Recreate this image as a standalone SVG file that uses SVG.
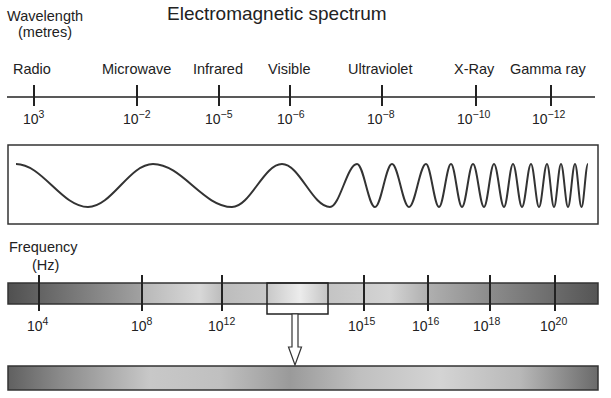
<svg xmlns="http://www.w3.org/2000/svg" width="611" height="398" viewBox="0 0 611 398">
<defs>
<style>
text{font-family:"Liberation Sans",Arial,sans-serif;fill:#222}
.lbl{font-size:14.5px}
.num{font-size:14px}
.sup{font-size:10.5px}
.ax{stroke:#222;stroke-width:1.5;fill:none}
.tk{stroke:#222;stroke-width:2;fill:none}
.bar{stroke:#333;stroke-width:1.5}
</style>
<linearGradient id="g1" gradientUnits="userSpaceOnUse" x1="8" y1="0" x2="598" y2="0">
<stop offset="0" stop-color="#505050"/>
<stop offset="0.223" stop-color="#a0a0a0"/>
<stop offset="0.229" stop-color="#b8b8b8"/>
<stop offset="0.325" stop-color="#d8d8d8"/>
<stop offset="0.363" stop-color="#bcbcbc"/>
<stop offset="0.439" stop-color="#c8c8c8"/>
<stop offset="0.495" stop-color="#ececec"/>
<stop offset="0.542" stop-color="#c4c4c4"/>
<stop offset="0.647" stop-color="#d4d4d4"/>
<stop offset="0.710" stop-color="#b0b0b0"/>
<stop offset="0.817" stop-color="#8c8c8c"/>
<stop offset="1" stop-color="#555555"/>
</linearGradient>
<linearGradient id="g2" gradientUnits="userSpaceOnUse" x1="8" y1="0" x2="598" y2="0">
<stop offset="0" stop-color="#606060"/>
<stop offset="0.088" stop-color="#8a8a8a"/>
<stop offset="0.241" stop-color="#c8c8c8"/>
<stop offset="0.359" stop-color="#c0c0c0"/>
<stop offset="0.478" stop-color="#9a9a9a"/>
<stop offset="0.597" stop-color="#c0c0c0"/>
<stop offset="0.732" stop-color="#d4d4d4"/>
<stop offset="0.868" stop-color="#b8b8b8"/>
<stop offset="1" stop-color="#6a6a6a"/>
</linearGradient>
</defs>
<rect width="611" height="398" fill="#fff"/>

<g id="title">
<text x="167" y="20" style="font-size:19px">Electromagnetic spectrum</text>
</g>

<g id="wavelength-axis">
<text x="7" y="21" class="lbl">Wavelength</text>
<text x="18" y="37" class="lbl">(metres)</text>
<text x="13" y="74" class="lbl">Radio</text>
<text x="102" y="74" class="lbl">Microwave</text>
<text x="193" y="74" class="lbl">Infrared</text>
<text x="268" y="74" class="lbl">Visible</text>
<text x="348" y="74" class="lbl">Ultraviolet</text>
<text x="454" y="74" class="lbl">X-Ray</text>
<text x="510" y="74" class="lbl">Gamma ray</text>
<line x1="7" y1="97" x2="595" y2="97" class="ax"/>
<path class="tk" d="M34 85V106M137 85V106M219 85V106M290 85V106M382 85V106M476 85V106M551 85V106"/>
<text x="23" y="124" class="num">10<tspan dy="-6" class="sup">3</tspan></text>
<text x="123" y="124" class="num">10<tspan dy="-6" class="sup">−2</tspan></text>
<text x="205" y="124" class="num">10<tspan dy="-6" class="sup">−5</tspan></text>
<text x="277" y="124" class="num">10<tspan dy="-6" class="sup">−6</tspan></text>
<text x="367" y="124" class="num">10<tspan dy="-6" class="sup">−8</tspan></text>
<text x="457" y="124" class="num">10<tspan dy="-6" class="sup">−10</tspan></text>
<text x="532" y="124" class="num">10<tspan dy="-6" class="sup">−12</tspan></text>
</g>

<g id="wave-panel">
<rect x="8" y="145" width="590" height="79" fill="#fff" stroke="#333" stroke-width="1.5"/>
<path fill="none" stroke="#333" stroke-width="2" d="M16 164C42.2 164 61.8 207 88 207C111.7 207 129.3 164 153 164C181.8 164 203.2 207 232 207C250.2 207 263.8 164 282 164C299.5 164 312.5 207 330 207C339.8 207 347.2 164 357 164C363.6 164 368.4 207 375 207C381.2 207 385.8 164 392 164C398.2 164 402.8 207 409 207C415.2 207 419.8 164 426 164C430.7 164 434.3 207 439 207C443.4 207 446.6 164 451 164C455 164 458 207 462 207C466 207 469 164 473 164C477 164 480 207 484 207C487.6 207 490.4 164 494 164C497.6 164 500.4 207 504 207C507.3 207 509.7 164 513 164C516.3 164 518.7 207 522 207C525.3 207 527.7 164 531 164C533.9 164 536.1 207 539 207C541.9 207 544.1 164 547 164C549.5 164 551.5 207 554 207C556.5 207 558.5 164 561 164C563.5 164 565.5 207 568 207C570.5 207 572.5 164 575 164C577.4 164 579.1 207 581.5 207C583.9 207 585.6 164 588 164"/>
</g>

<g id="frequency-axis">
<text x="9" y="252" class="lbl">Frequency</text>
<text x="32" y="270" class="lbl">(Hz)</text>
<rect x="8" y="283" width="590" height="21" fill="url(#g1)" class="bar"/>
<path class="tk" d="M39 275V311M142 275V311M222 275V311M364 275V311M428 275V311M490 275V311M555 275V311"/>
<text x="27" y="331" class="num">10<tspan dy="-6" class="sup">4</tspan></text>
<text x="131" y="331" class="num">10<tspan dy="-6" class="sup">8</tspan></text>
<text x="208" y="331" class="num">10<tspan dy="-6" class="sup">12</tspan></text>
<text x="348" y="331" class="num">10<tspan dy="-6" class="sup">15</tspan></text>
<text x="412" y="331" class="num">10<tspan dy="-6" class="sup">16</tspan></text>
<text x="473" y="331" class="num">10<tspan dy="-6" class="sup">18</tspan></text>
<text x="540" y="331" class="num">10<tspan dy="-6" class="sup">20</tspan></text>
</g>

<g id="visible-window">
<rect x="267" y="283" width="61" height="31" fill="none" stroke="#222" stroke-width="1.5"/>
</g>

<g id="connectors">
<path d="M292 314V347H288.5L295 365L301.5 347H298V314Z" fill="#fff" stroke="#333" stroke-width="1.2"/>
</g>

<g id="visible-spectrum">
<rect x="8" y="366" width="590" height="24" fill="url(#g2)" class="bar"/>
</g>
</svg>
